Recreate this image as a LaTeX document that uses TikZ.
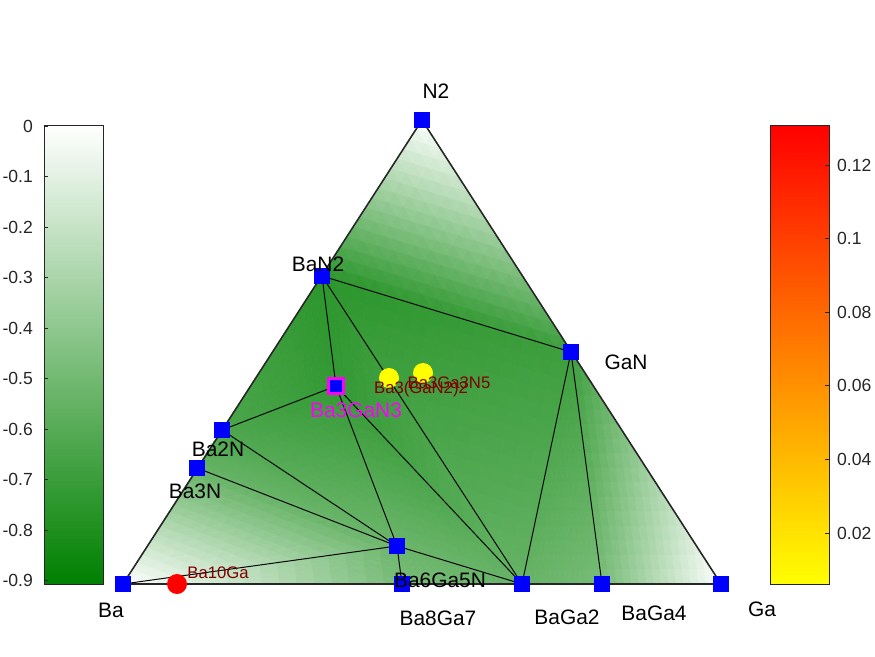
\documentclass[tikz,border=0pt]{standalone}
\usepackage{fontspec}
\setmainfont{Liberation Sans}
\usepackage{xcolor}
\usepackage{tikz}
\usetikzlibrary{calc}
\definecolor{cbgreen}{RGB}{0,128,0}
\definecolor{axgray}{RGB}{38,38,38}
\definecolor{lbred}{RGB}{128,0,0}
\definecolor{mkmagenta}{RGB}{255,0,255}
\definecolor{mkyellow}{RGB}{255,255,0}
\definecolor{mkred}{RGB}{255,0,0}
\definecolor{mkblue}{RGB}{0,0,255}

% one hull facet, split in small cells: corners #1-#3, depth #4-#6
\newcommand{\facet}[6]{%
  \foreach \i in {0,...,15}{%
    \pgfmathtruncatemacro{\jmax}{15-\i}%
    \foreach \j in {0,...,\jmax}{%
      \pgfmathtruncatemacro{\k}{16-\i-\j}%
      \pgfmathtruncatemacro{\km}{\k-1}%
      \pgfmathtruncatemacro{\ip}{\i+1}%
      \pgfmathtruncatemacro{\jp}{\j+1}%
      \pgfmathsetmacro{\tval}{6.25*((\k-2/3)*#4+(\i+1/3)*#5+(\j+1/3)*#6)}%
      \filldraw[cell=\tval] (barycentric cs:#1=\k,#2=\i,#3=\j) -- (barycentric cs:#1=\km,#2=\ip,#3=\j) -- (barycentric cs:#1=\km,#2=\i,#3=\jp) -- cycle;
      \ifnum\k>1
        \pgfmathtruncatemacro{\kmm}{\k-2}%
        \pgfmathsetmacro{\tval}{6.25*((\k-4/3)*#4+(\i+2/3)*#5+(\j+2/3)*#6)}%
        \filldraw[cell=\tval] (barycentric cs:#1=\km,#2=\ip,#3=\j) -- (barycentric cs:#1=\kmm,#2=\ip,#3=\jp) -- (barycentric cs:#1=\km,#2=\i,#3=\jp) -- cycle;
      \fi
    }}}

\tikzset{
  cell/.style={fill=cbgreen!#1!white, draw=cbgreen!#1!white, line width=0.3pt},
  edge/.style={line width=0.9pt, axgray},
  tie/.style={line width=0.55pt, black},
  phase/.style={rectangle, fill=mkblue, minimum size=0.32cm, inner sep=0pt},
  above hull/.style={circle, minimum size=0.4cm, inner sep=0pt},
  lab/.style={font=\fontsize{11.9}{13}\selectfont},
  smalllab/.style={font=\fontsize{9.5}{11}\selectfont, lbred},
  ticklab/.style={font=\fontsize{10}{11}\selectfont, axgray}
}

\begin{document}
\begin{tikzpicture}[x=0.02cm, y=-0.02cm]
\useasboundingbox (0,0) rectangle (875,656);
% PHASES (pixel positions)
\coordinate (Ba) at (123,584);
\coordinate (Ga) at (721,584);
\coordinate (N2) at (422,120);
\coordinate (BaN2) at (322,276);
\coordinate (GaN) at (571,352);
\coordinate (Ba2N) at (222,430);
\coordinate (Ba3N) at (197,468);
\coordinate (Ba3GaN3) at (336,386);
\coordinate (Ba6Ga5N) at (397,546);
\coordinate (Ba8Ga7) at (402,584);
\coordinate (BaGa2) at (522,584);
\coordinate (BaGa4) at (602,584);
\coordinate (Ba10Ga) at (177,584);
\coordinate (Ba3GaN22) at (389,378);
\coordinate (Ba3Ga3N5) at (423,373);

% SHADED HULL FACETS
\facet{N2}{BaN2}{GaN}{0}{.83}{.76}
\facet{BaN2}{GaN}{BaGa2}{.83}{.76}{.6}
\facet{BaN2}{Ba3GaN3}{BaGa2}{.83}{.8}{.6}
\facet{Ba3GaN3}{Ba6Ga5N}{BaGa2}{.8}{.58}{.6}
\facet{Ba3GaN3}{Ba2N}{Ba6Ga5N}{.8}{.7}{.58}
\facet{BaN2}{Ba2N}{Ba3GaN3}{.83}{.7}{.8}
\facet{Ba2N}{Ba3N}{Ba6Ga5N}{.7}{.6}{.58}
\facet{Ba3N}{Ba}{Ba6Ga5N}{.6}{0}{.58}
\facet{Ba}{Ba8Ga7}{Ba6Ga5N}{0}{.53}{.58}
\facet{Ba6Ga5N}{Ba8Ga7}{BaGa2}{.58}{.53}{.6}
\facet{GaN}{BaGa2}{BaGa4}{.76}{.6}{.53}
\facet{GaN}{BaGa4}{Ga}{.76}{.53}{0}

% TIE LINES
\draw[tie] (BaN2) -- (GaN);
\draw[tie] (BaN2) -- (Ba3GaN3);
\draw[tie] (BaN2) -- (BaGa2);
\draw[tie] (GaN) -- (BaGa2);
\draw[tie] (GaN) -- (BaGa4);
\draw[tie] (Ba3GaN3) -- (Ba2N);
\draw[tie] (Ba3GaN3) -- (Ba6Ga5N);
\draw[tie] (Ba3GaN3) -- (BaGa2);
\draw[tie] (Ba2N) -- (Ba6Ga5N);
\draw[tie] (Ba3N) -- (Ba6Ga5N);
\draw[tie] (Ba) -- (Ba6Ga5N);
\draw[tie] (Ba6Ga5N) -- (Ba8Ga7);
\draw[tie] (Ba6Ga5N) -- (BaGa2);
% TRIANGLE
\draw[edge] (Ba) -- (Ga) -- (N2) -- cycle;

% MARKERS
\foreach \p in {Ba,Ga,N2,BaN2,GaN,Ba2N,Ba3N,Ba6Ga5N,Ba8Ga7,BaGa2,BaGa4}
  \node[phase] (m\p) at (\p) {};
\node[phase, draw=mkmagenta, line width=1.5pt, minimum size=0.31cm] (mBa3GaN3) at (Ba3GaN3) {};
\node[above hull, fill=mkyellow] (mBa3GaN22) at (Ba3GaN22) {};
\node[above hull, fill=mkyellow] (mBa3Ga3N5) at (Ba3Ga3N5) {};
\node[above hull, fill=mkred] (mBa10Ga) at (Ba10Ga) {};

% LABELS
\node[lab] (tN2) at (436,91) {N2};
\node[lab] (tBaN2) at (318,264) {BaN2};
\node[lab] (tGaN) at (626,362) {GaN};
\node[lab] (tBa2N) at (218,449) {Ba2N};
\node[lab] (tBa3N) at (195,491) {Ba3N};
\node[lab] (tBa) at (111,610) {Ba};
\node[lab] (tBa8Ga7) at (438,618) {Ba8Ga7};
\node[lab] (tBaGa2) at (567,617) {BaGa2};
\node[lab] (tBaGa4) at (654,613) {BaGa4};
\node[lab] (tGa) at (762,609) {Ga};
\node[lab] (tBa6Ga5N) at (440,580) {Ba6Ga5N};
\node[lab, mkmagenta] (tBa3GaN3) at (356,410) {Ba3GaN3};
\node[smalllab] (tBa3GaN22) at (421,389) {Ba3(GaN2)2};
\node[smalllab] (tBa3Ga3N5) at (449,383) {Ba3Ga3N5};
\node[smalllab] (tBa10Ga) at (218,573) {Ba10Ga};

% LEFT COLORBAR
\shade[top color=white, bottom color=cbgreen] (44,125) rectangle (103,584);
\draw[axgray, line width=0.5pt] (44,125) rectangle (103,584);
\foreach \v [count=\k from 0] in {0,-0.1,-0.2,-0.3,-0.4,-0.5,-0.6,-0.7,-0.8,-0.9}{
  \draw[axgray, line width=0.5pt] (44,126+50.5*\k) -- (48,126+50.5*\k);
  \node[ticklab, anchor=east] (gl\k) at (39,126+50.5*\k) {\v};
}
% RIGHT COLORBAR
\shade[top color=mkred, bottom color=mkyellow] (770,125) rectangle (829,584);
\draw[axgray, line width=0.5pt] (770,125) rectangle (829,584);
\foreach \v [count=\k from 0] in {0.12,0.1,0.08,0.06,0.04,0.02}{
  \draw[axgray, line width=0.5pt] (829,165+73.6*\k) -- (825,165+73.6*\k);
  \node[ticklab, anchor=west] (rl\k) at (831,165+73.6*\k) {\v};
}
\end{tikzpicture}
\end{document}
